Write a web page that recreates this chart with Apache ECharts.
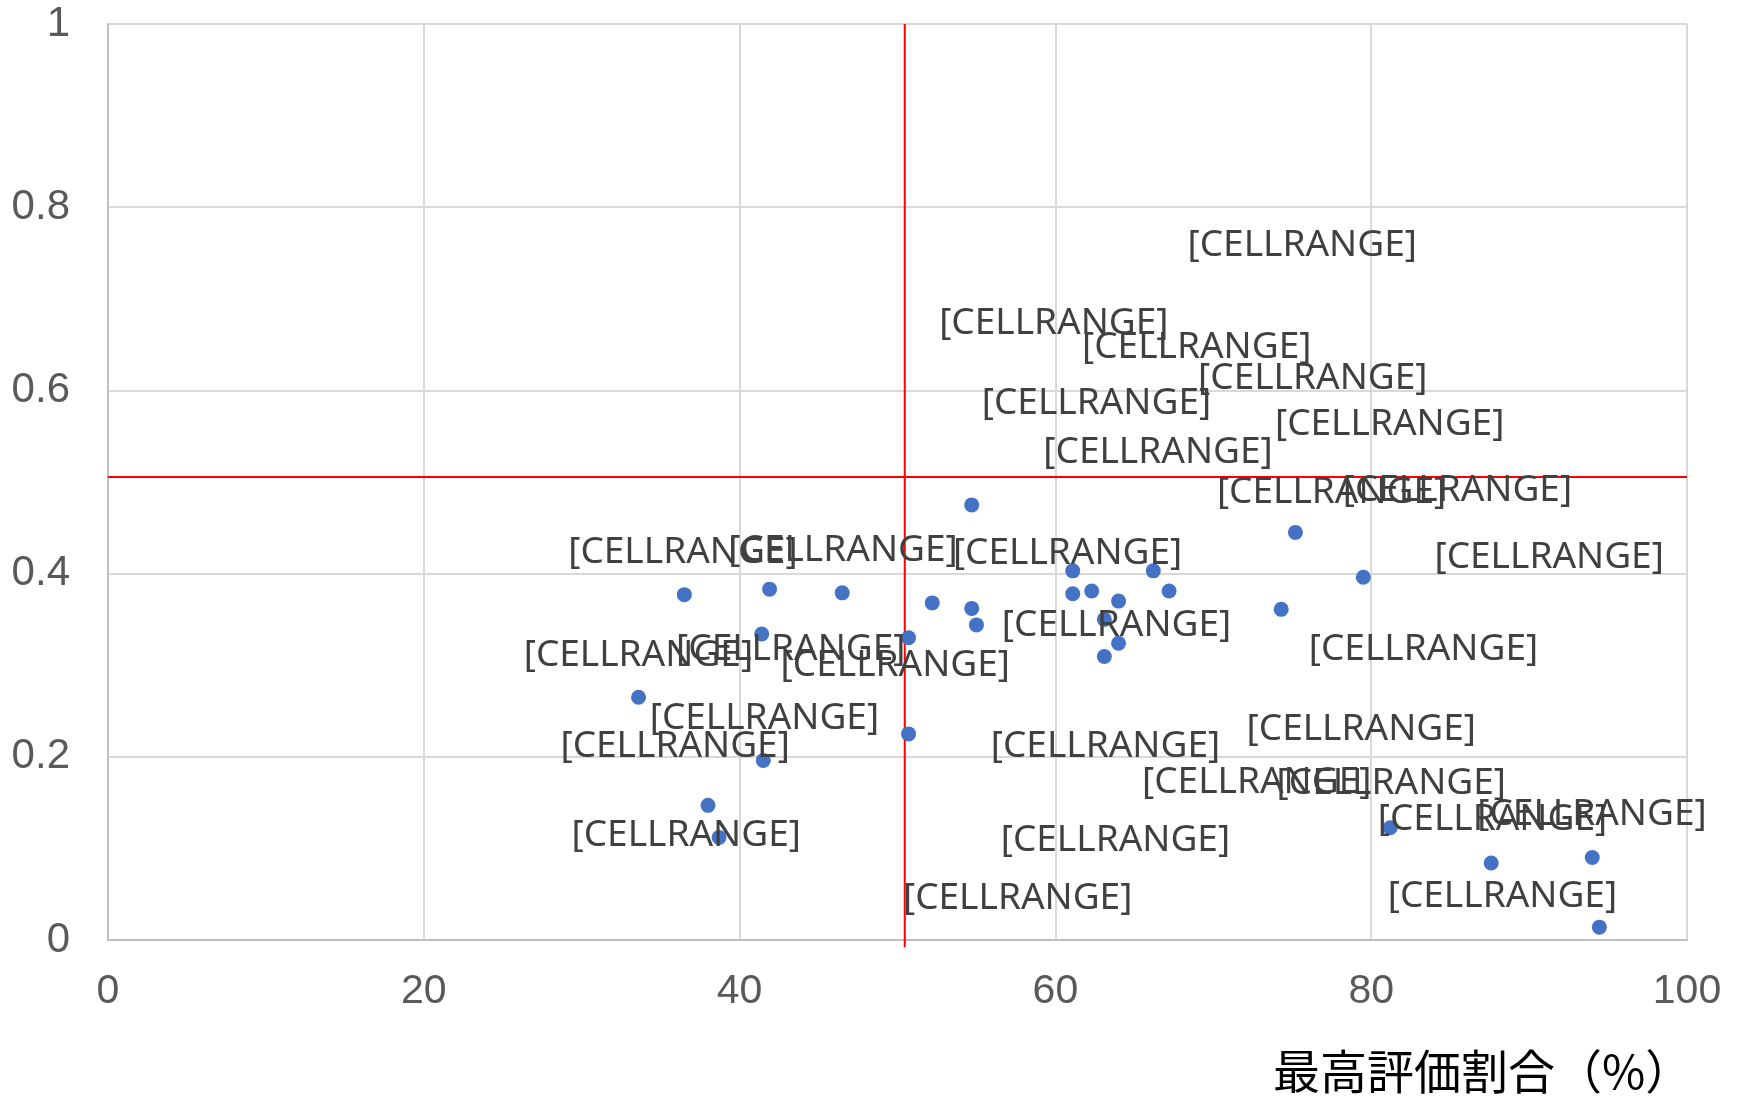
<!DOCTYPE html>
<html>
<head>
    <meta charset="UTF-8">
    <title></title>
    <style>
        html, body { margin: 0; padding: 0; background: #fff; }
    </style>
</head>
<body>
<div id="main" style="width: 1743px;height:1098px;"></div>
</body>
<script type="text/javascript" src="https://cdn.jsdelivr.net/npm/echarts@6/dist/echarts.min.js"></script>
<script type="text/javascript">
    // 点のデータ（最高評価割合 %, 縦軸の値）
    var pointX = [54.7, 75.2, 79.5, 36.5, 41.9, 46.5, 52.2, 54.7, 55.0, 61.1,
                  61.1, 62.3, 64.0, 66.2, 67.2, 63.1, 64.0, 63.1, 74.3, 41.4,
                  50.7, 33.6, 50.7, 41.5, 38.0, 38.7, 81.2, 87.6, 94.0, 94.45];
    var pointY = [0.475, 0.445, 0.396, 0.377, 0.383, 0.379, 0.368, 0.362, 0.344, 0.403,
                  0.378, 0.381, 0.370, 0.403, 0.381, 0.350, 0.324, 0.3095, 0.361, 0.334,
                  0.330, 0.265, 0.225, 0.196, 0.147, 0.112, 0.1226, 0.084, 0.090, 0.014];

    // データラベル（手で動かされた位置）
    var labelText = '[CELLRANGE]';
    var labelX = [75.63, 59.9, 68.95, 76.3, 62.6, 81.17, 66.5, 77.49, 85.46, 36.41,
                  46.55, 60.77, 91.27, 63.87, 33.59, 43.24, 49.86, 83.31, 41.57, 35.92,
                  79.37, 63.17, 72.75, 81.27, 93.98, 87.68, 36.62, 63.80, 57.61, 88.31];
    var labelY = [0.758, 0.6732, 0.6468, 0.613, 0.586, 0.5633, 0.5322, 0.4885, 0.4904, 0.4235,
                  0.4248, 0.4223, 0.4175, 0.3434, 0.3107, 0.3167, 0.2998, 0.3167, 0.2424, 0.2112,
                  0.2294, 0.2112, 0.1723, 0.1711, 0.1371, 0.1311, 0.1141, 0.1092, 0.0449, 0.0473];

    // 平均線
    var meanX = 50.46;
    var meanY = 0.5055;

    var xTicks = [0, 20, 40, 60, 80, 100];
    var yTicks = [0, 0.2, 0.4, 0.6, 0.8, 1];
    var xTitle = '最高評価割合（%）';

    var points = pointX.map(function (x, i) { return [x, pointY[i]]; });
    var labels = labelX.map(function (x, i) { return [x, labelY[i]]; });

    var myChart = echarts.init(document.getElementById('main'));
    var option = {
        animation: false,
        backgroundColor: '#fff',
        grid: {
            left: 108,
            right: 56,
            top: 24,
            bottom: 158
        },
        xAxis: {
            type: 'value',
            min: xTicks[0],
            max: xTicks[xTicks.length - 1],
            interval: 20,
            axisLine: { show: true, lineStyle: { color: '#bfbfbf', width: 2 } },
            axisTick: { show: false },
            axisLabel: {
                margin: 31,
                color: '#595959',
                fontFamily: 'Liberation Sans',
                fontSize: 41
            },
            splitLine: { show: true, lineStyle: { color: '#d9d9d9', width: 2 } }
        },
        yAxis: {
            type: 'value',
            min: yTicks[0],
            max: yTicks[yTicks.length - 1],
            interval: 0.2,
            axisLine: { show: true, lineStyle: { color: '#bfbfbf', width: 2 } },
            axisTick: { show: false },
            axisLabel: {
                margin: 38,
                color: '#595959',
                fontFamily: 'Liberation Sans',
                fontSize: 42
            },
            splitLine: { show: true, lineStyle: { color: '#d9d9d9', width: 2 } }
        },
        graphic: [{
            type: 'text',
            left: 1273,
            top: 1048,
            style: {
                text: xTitle,
                fill: '#000',
                font: '47px "Noto Sans CJK JP"'
            }
        }],
        series: [
            {
                type: 'line',
                data: [[meanX, -0.008], [meanX, 1]],
                symbol: 'none',
                clip: false,
                lineStyle: { color: '#ff0000', width: 2 },
                z: 1
            },
            {
                type: 'line',
                data: [[0, meanY], [100, meanY]],
                symbol: 'none',
                lineStyle: { color: '#ff0000', width: 2 },
                z: 1
            },
            {
                type: 'scatter',
                data: points,
                symbol: 'circle',
                symbolSize: 15,
                itemStyle: { color: '#4472c4', opacity: 1 },
                z: 2
            },
            {
                type: 'scatter',
                data: labels,
                symbolSize: 0,
                silent: true,
                z: 3,
                itemStyle: { opacity: 1 },
                label: {
                    show: true,
                    position: 'inside',
                    formatter: function () { return labelText; },
                    color: '#404040',
                    opacity: 1,
                    fontFamily: 'Noto Sans',
                    fontSize: 37
                }
            }
        ]
    };
    myChart.setOption(option);
</script>
</html>
